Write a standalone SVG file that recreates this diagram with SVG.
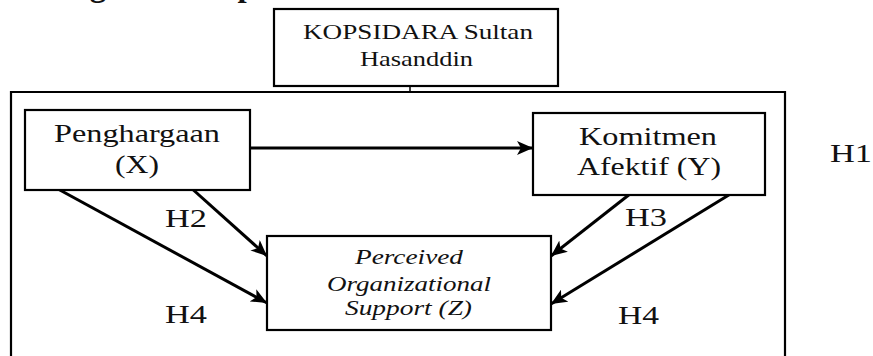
<svg xmlns="http://www.w3.org/2000/svg" width="873" height="356" viewBox="0 0 873 356">
  <style>
    .box { fill: #fff; stroke: #000; stroke-width: 2.2; }
    .frame { fill: none; stroke: #000; stroke-width: 2.2; }
    .txt { font-family: "Liberation Serif", "Times New Roman", serif; fill: #111; }
    .lbl { font-family: "Liberation Serif", "Times New Roman", serif; fill: #111; font-size: 25px; }
    .edge { stroke: #000; stroke-width: 3; fill: none; }
  </style>
  <defs>
    <marker id="arrow" markerUnits="userSpaceOnUse" markerWidth="18" markerHeight="14" refX="16" refY="7" orient="auto">
      <path d="M0,0 L16,7 L0,14 L4,7 Z" fill="#000"/>
    </marker>
  </defs>
  <rect width="873" height="356" fill="#fff"/>

  <!-- heading, running off the top edge -->
  <text class="txt" x="0" y="-4" font-size="33" font-weight="bold">Kerangka Konseptual</text>

  <!-- outer frame (open at the bottom) -->
  <path class="frame" d="M11,356 V92 H785 V356"/>

  <g id="connectors">
    <line class="edge" x1="410" y1="86" x2="410" y2="92" style="stroke-width:1.5"/>
    <line class="edge" x1="250" y1="148" x2="533" y2="148" marker-end="url(#arrow)"/>
    <line class="edge" x1="180" y1="178" x2="267" y2="256" marker-end="url(#arrow)"/>
    <line class="edge" x1="36" y1="177" x2="267" y2="303" marker-end="url(#arrow)"/>
    <line class="edge" x1="644" y1="183" x2="551" y2="256" marker-end="url(#arrow)"/>
    <line class="edge" x1="750" y1="182" x2="551" y2="304" marker-end="url(#arrow)"/>
  </g>

  <g id="kopsidara">
    <rect class="box" x="274" y="9" width="284" height="77"/>
    <text class="txt" x="303" y="39" font-size="21" textLength="230" lengthAdjust="spacingAndGlyphs">KOPSIDARA Sultan</text>
    <text class="txt" x="360" y="66" font-size="21" textLength="113" lengthAdjust="spacingAndGlyphs">Hasanddin</text>
  </g>

  <g id="penghargaan">
    <rect class="box" x="25" y="110" width="225" height="80"/>
    <text class="txt" x="54" y="142" font-size="26" textLength="166" lengthAdjust="spacingAndGlyphs">Penghargaan</text>
    <text class="txt" x="115" y="173" font-size="26" textLength="44" lengthAdjust="spacingAndGlyphs">(X)</text>
  </g>

  <g id="komitmen">
    <rect class="box" x="533" y="113" width="232" height="82"/>
    <text class="txt" x="579" y="145" font-size="26" textLength="138" lengthAdjust="spacingAndGlyphs">Komitmen</text>
    <text class="txt" x="577" y="175" font-size="26" textLength="144" lengthAdjust="spacingAndGlyphs">Afektif (Y)</text>
  </g>

  <g id="pos">
    <rect class="box" x="267" y="236" width="284" height="94"/>
    <text class="txt" x="355" y="264" font-size="21" font-style="italic" textLength="108" lengthAdjust="spacingAndGlyphs">Perceived</text>
    <text class="txt" x="327" y="291" font-size="21" font-style="italic" textLength="164" lengthAdjust="spacingAndGlyphs">Organizational</text>
    <text class="txt" x="345" y="315" font-size="21" font-style="italic" textLength="127" lengthAdjust="spacingAndGlyphs">Support (Z)</text>
  </g>

  <g id="labels">
    <text class="lbl" x="830" y="162" textLength="42" lengthAdjust="spacingAndGlyphs">H1</text>
    <text class="lbl" x="165" y="227" textLength="42" lengthAdjust="spacingAndGlyphs">H2</text>
    <text class="lbl" x="625" y="226" textLength="42" lengthAdjust="spacingAndGlyphs">H3</text>
    <text class="lbl" x="165" y="323" textLength="42" lengthAdjust="spacingAndGlyphs">H4</text>
    <text class="lbl" x="618" y="324" textLength="41" lengthAdjust="spacingAndGlyphs">H4</text>
  </g>
</svg>
